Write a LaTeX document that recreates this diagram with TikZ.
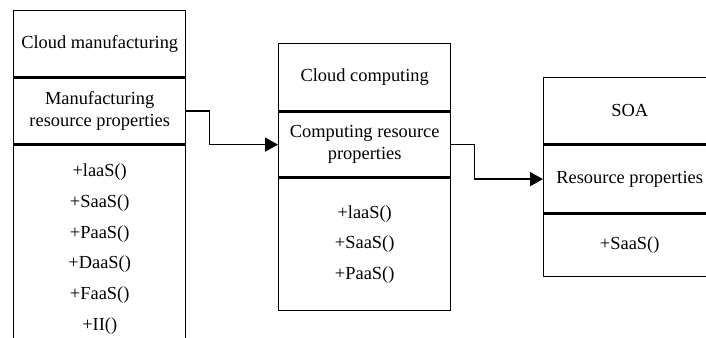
\documentclass[tikz,border=0pt]{standalone}
\usepackage{fontspec}
\setmainfont{Liberation Serif}
\usetikzlibrary{positioning,arrows.meta}

\begin{document}
\begin{tikzpicture}[x=0.5pt, y=-0.5pt,
    compart/.style={rectangle, draw, line width=0.7pt, minimum width=86pt, inner sep=0pt, align=center, font=\fontsize{9.2}{11}\selectfont},
    ops/.style={compart, font=\fontsize{9.2}{15.4}\selectfont},
    line/.style={draw, line width=0.75pt, -{Triangle[length=6.5pt,width=7pt]}}]

    \clip (0,0) rectangle (706,337);

    % Cloud manufacturing
    \node [compart, minimum height=33pt, anchor=north west] (cm-head) at (13,10) {Cloud manufacturing};
    \node [compart, minimum height=33pt, below=0pt of cm-head] (cm-attr) {Manufacturing\\resource properties};
    \node [ops, minimum height=103.5pt, below=0pt of cm-attr] (cm-ops) {+laaS()\\+SaaS()\\+PaaS()\\+DaaS()\\+FaaS()\\+II()};

    % Cloud computing
    \node [compart, minimum height=33.5pt, anchor=north west] (cc-head) at (278,43) {Cloud computing};
    \node [compart, minimum height=32.5pt, below=0pt of cc-head] (cc-attr) {Computing resource\\properties};
    \node [ops, minimum height=66pt, below=0pt of cc-attr] (cc-ops) {+laaS()\\+SaaS()\\+PaaS()};

    % SOA
    \node [compart, minimum height=33pt, anchor=north west] (soa-head) at (543,77) {SOA};
    \node [compart, minimum height=34pt, below=0pt of soa-head] (soa-attr) {Resource properties};
    \node [ops, minimum height=31pt, below=0pt of soa-attr] (soa-ops) {+SaaS()};

    % Paths
    \path [line] (cm-attr.east) -- ++(23,0) |- (cc-attr.west);
    \path [line] (cc-attr.east) -- ++(23,0) |- (soa-attr.west);

\end{tikzpicture}
\end{document}
